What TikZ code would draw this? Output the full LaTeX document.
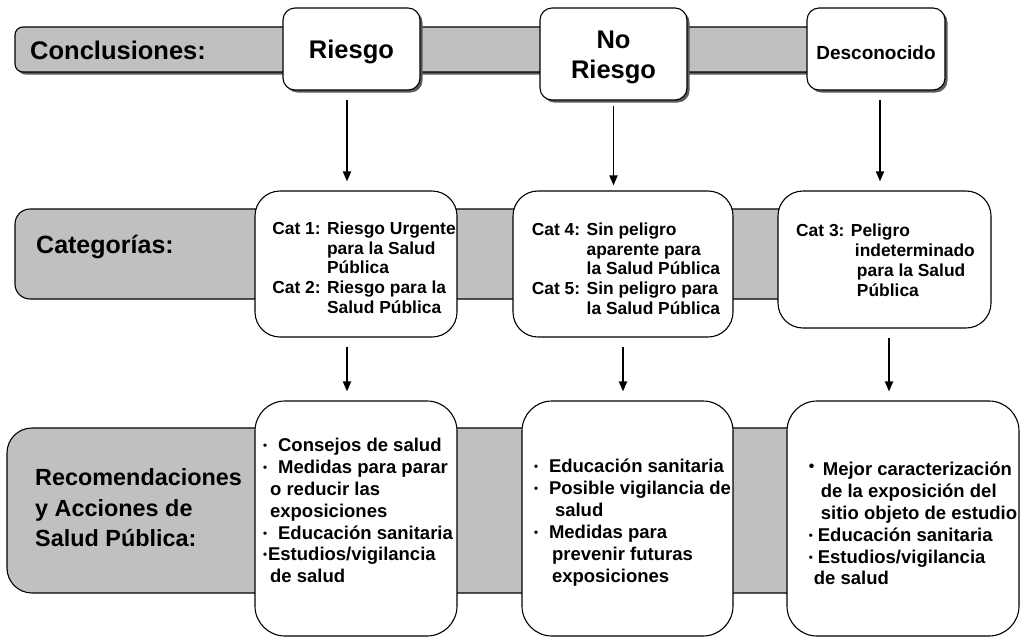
\documentclass[tikz,border=0pt]{standalone}
\usepackage{graphicx}
\usepackage{fontspec}
\setmainfont{Liberation Sans}
\usetikzlibrary{arrows.meta,shadows}
\definecolor{bandgray}{RGB}{192,192,192}
\definecolor{shadegray}{RGB}{90,90,90}
\newcommand{\dotb}{\raisebox{0.2ex}{\scalebox{0.62}{\textbullet}}}
\newcommand{\smbul}{\makebox[15pt][l]{\dotb}}
\newcommand{\bigbul}{\makebox[14pt][l]{\raisebox{0.45ex}{\scalebox{0.85}{\textbullet}}}}
\newcommand{\lowered}[2]{\raisebox{-#1}[\height][\depth]{#2}}

\begin{document}
\begin{tikzpicture}[x=1pt,y=-1pt,
  band/.style={draw=black,line width=1.1pt,fill=bandgray},
  box/.style={draw=black,line width=1.1pt,fill=white,inner sep=0pt,font=\bfseries},
  shad/.style={drop shadow={shadow xshift=2.5pt,shadow yshift=-2.5pt,fill=shadegray,opacity=1}},
  arr/.style={-{Triangle[length=10pt,width=8pt]},line width=1.8pt,shorten <=9pt,shorten >=9pt},
  lab/.style={anchor=west,align=left,inner sep=0pt},
  hugetxt/.style={font=\bfseries\fontsize{25.5}{30}\selectfont},
  cattxt/.style={inner sep=0pt,font=\bfseries\fontsize{17.4}{19.8}\selectfont},
  rectxt/.style={inner sep=0pt,align=left,font=\bfseries\fontsize{18.5}{21.9}\selectfont}]
 \useasboundingbox (0,0) rectangle (1022,638);

 \begin{scope}
  \draw[band,shad,rounded corners=8pt] (15,27) rectangle (870,72);
  \node[lab,hugetxt] (conclab) at (30,50) {Conclusiones:};
  \node[box,shad,hugetxt,rounded corners=12pt,minimum width=137pt,minimum height=82pt] (riesgo) at (351.5,49) {\lowered{3pt}{Riesgo}};
  \node[box,shad,hugetxt,rounded corners=12pt,minimum width=147pt,minimum height=92pt] (noriesgo) at (613.5,54) {\lowered{3pt}{\begin{tabular}{@{}c@{}}No\\Riesgo\end{tabular}}};
  \node[box,shad,rounded corners=12pt,minimum width=138pt,minimum height=82pt,font=\bfseries\fontsize{19}{23}\selectfont] (descon) at (876,49) {\lowered{4pt}{Desconocido}};
 \end{scope}

 \begin{scope}
  \draw[band,rounded corners=15pt] (15,209) rectangle (880,299);
  \node[lab,font=\bfseries\fontsize{25}{30}\selectfont] (catlab) at (36,247) {Categorías:};
  \node[box,rounded corners=25pt,minimum width=202pt,minimum height=146pt] (cat1) at (356,264) {};
  \node[box,rounded corners=25pt,minimum width=220pt,minimum height=146pt] (cat2) at (623,264) {};
  \node[box,rounded corners=25pt,minimum width=213pt,minimum height=137pt] (cat3) at (884.5,259.5) {};
  \node[cattxt] (cat1txt) at ([xshift=8pt,yshift=-6pt]cat1.center)
   {\begin{tabular}{@{}l@{ }l@{}}
    Cat 1: & Riesgo Urgente\\
           & para la Salud\\
           & Pública\\
    Cat 2: & Riesgo para la\\
           & Salud Pública
   \end{tabular}};
  \node[cattxt] (cat2txt) at ([xshift=3pt,yshift=-7pt]cat2.center)
   {\begin{tabular}{@{}l@{ }l@{}}
    Cat 4: & Sin peligro\\
           & aparente para\\
           & la Salud Pública\\
    Cat 5: & Sin peligro para\\
           & la Salud Pública
   \end{tabular}};
  \node[cattxt] (cat3txt) at ([xshift=1pt,yshift=-3pt]cat3.center)
   {\begin{tabular}{@{}l@{ }l@{}}
    Cat 3: & Peligro\\
           & \hspace*{4pt}indeterminado\\
           & \hspace*{6pt}para la Salud\\
           & \hspace*{6pt}Pública
   \end{tabular}};
 \end{scope}

 \begin{scope}
  \draw[band,rounded corners=25pt] (7,428) rectangle (900,593);
  \node[lab,font=\bfseries\fontsize{23.4}{30.5}\selectfont] (reclab) at (35,508) {Recomendaciones\\y Acciones de\\Salud Pública:};
  \node[box,rounded corners=30pt,minimum width=202pt,minimum height=235pt] (rec1) at (356,518.5) {};
  \node[box,rounded corners=30pt,minimum width=211pt,minimum height=235pt] (rec2) at (627.5,518.5) {};
  \node[box,rounded corners=30pt,minimum width=232pt,minimum height=235pt] (rec3) at (903,518.5) {};
  \node[rectxt] (rec1txt) at ([xshift=2pt,yshift=8pt]rec1.center)
   {\smbul Consejos de salud\\
    \smbul Medidas para parar\\
    \hspace*{7pt}o reducir las\\
    \hspace*{7pt}exposiciones\\
    \smbul Educación sanitaria\\
    \makebox[5pt][l]{\dotb}Estudios/vigilancia\\
    \hspace*{7pt}de salud};
  \node[rectxt] (rec2txt) at ([xshift=5pt,yshift=-4pt]rec2.center)
   {\smbul Educación sanitaria\\
    \smbul Posible vigilancia de\\
    \hspace*{21pt}salud\\
    \smbul Medidas para\\
    \hspace*{18pt}prevenir futuras\\
    \hspace*{18pt}exposiciones};
  \node[rectxt] (rec3txt) at ([xshift=10pt,yshift=-5pt]rec3.center)
   {\bigbul Mejor caracterización\\
    \hspace*{12pt}de la exposición del\\
    \hspace*{12pt}sitio objeto de estudio\\
    \makebox[9pt][l]{\dotb}Educación sanitaria\\
    \makebox[9pt][l]{\dotb}Estudios/vigilancia\\
    \hspace*{5pt}de salud};
 \end{scope}

 \draw[arr] ([xshift=-4.5pt]riesgo.south) -- ([xshift=-4.5pt]riesgo.south |- cat1.north);
 \draw[arr,shorten <=5pt,shorten >=5pt] (noriesgo.south) -- (noriesgo.south |- cat2.north);
 \draw[arr] ([xshift=4pt]descon.south) -- ([xshift=4pt]descon.south |- cat3.north);
 \draw[arr] ([xshift=-9pt]cat1.south) -- ([xshift=-9pt]cat1.south |- rec1.north);
 \draw[arr] (cat2.south) -- (cat2.south |- rec2.north);
 \draw[arr] ([xshift=4.5pt]cat3.south) -- ([xshift=4.5pt]cat3.south |- rec3.north);
\end{tikzpicture}
\end{document}
